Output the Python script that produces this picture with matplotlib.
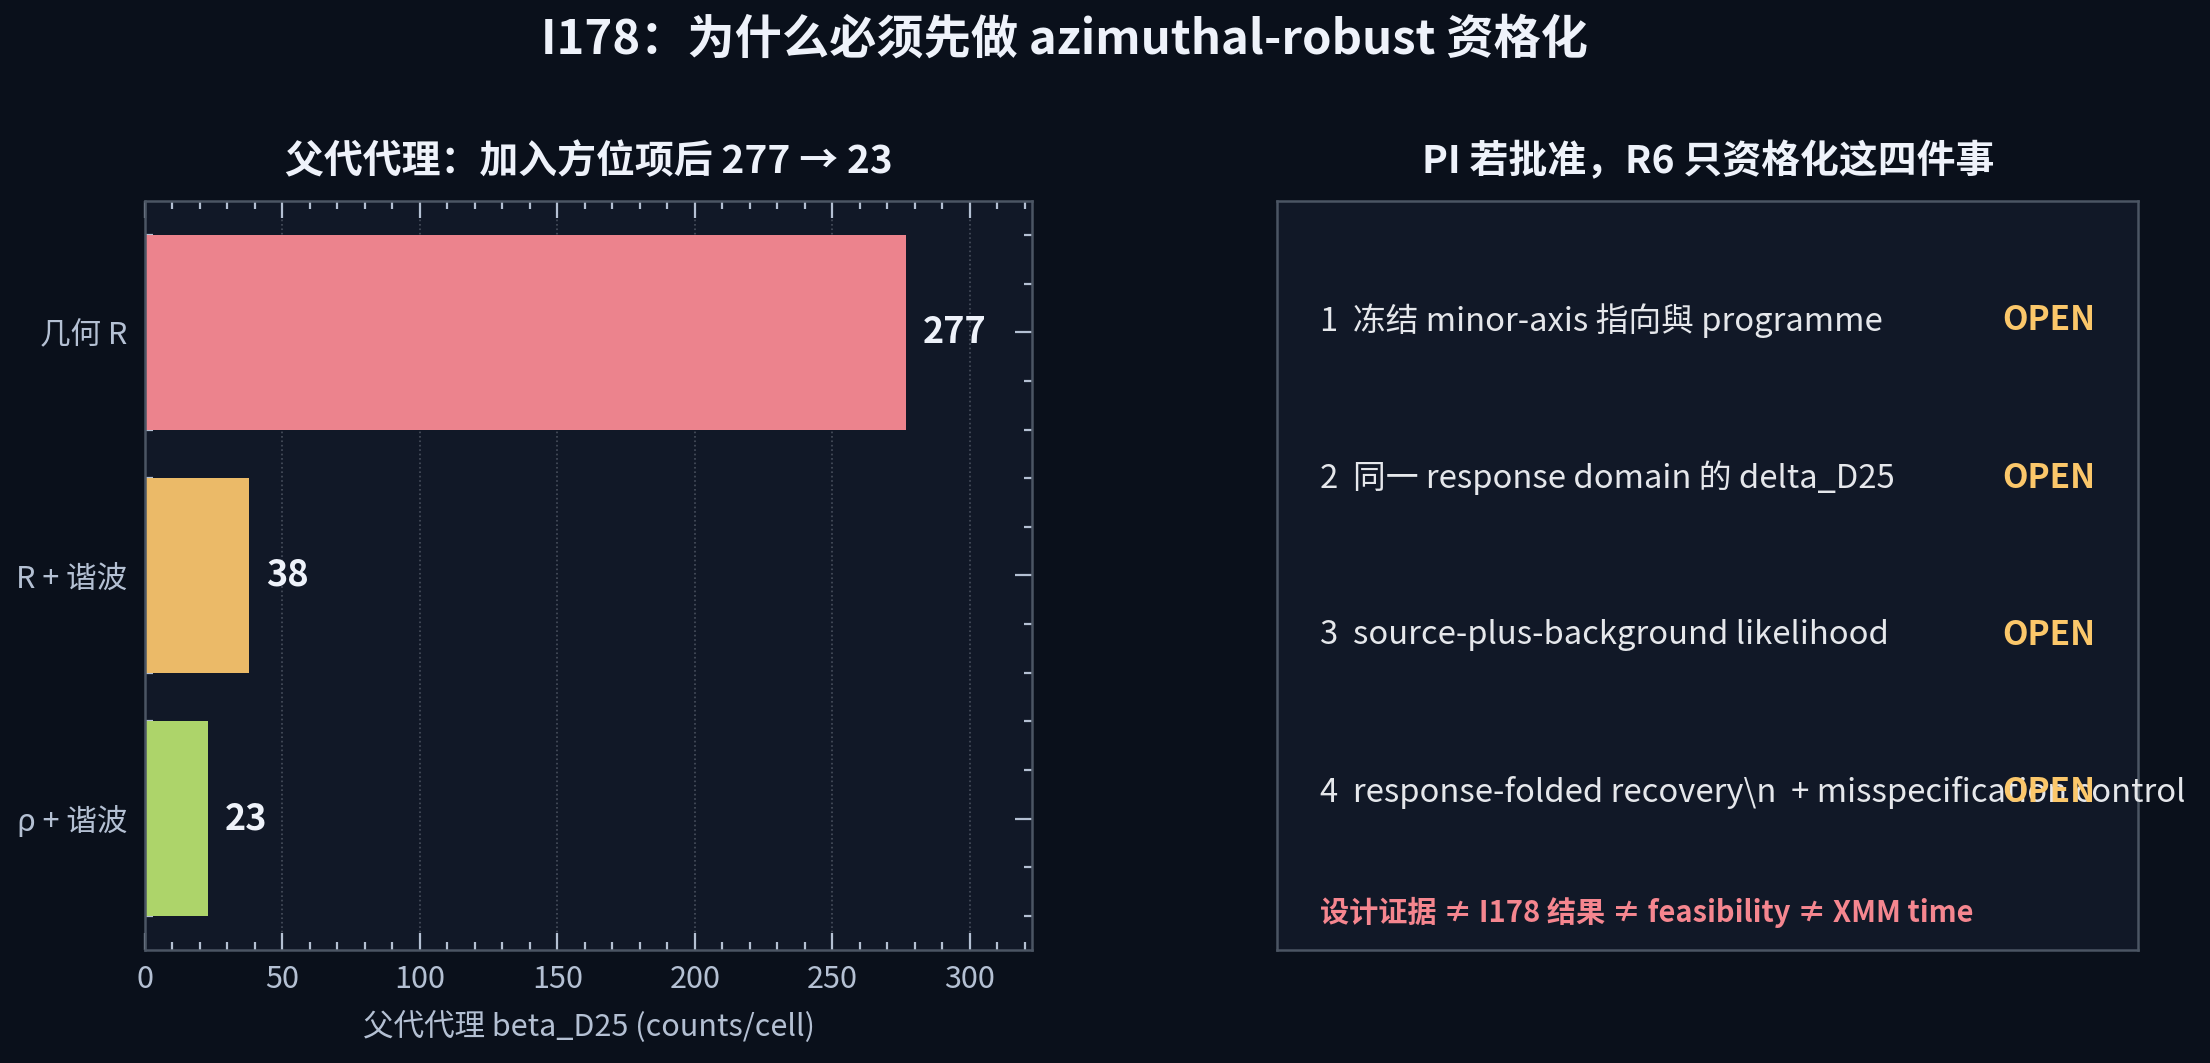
import numpy as np
import matplotlib.pyplot as plt
from matplotlib.ticker import AutoMinorLocator, MultipleLocator

plt.rcParams['font.family'] = ['Noto Sans CJK SC', 'DejaVu Sans']

# data
categories = ["几何 R", "R + 谐波", "ρ + 谐波"]
beta_values = [277, 38, 23]
bar_colors = ["#ec838d", "#ebba68", "#add46a"]

items = [
    "冻结 minor-axis 指向與 programme",
    "同一 response domain 的 delta_D25",
    "source-plus-background likelihood",
    "response-folded recovery\\n  + misspecification control",
]
item_status = ["OPEN", "OPEN", "OPEN", "OPEN"]
note = "设计证据 ≠ I178 结果 ≠ feasibility ≠ XMM time"

BG = "#0a101b"
AX_BG = "#111827"
TXT = "#eef2fa"
TICK = "#b4c0d3"
SPINE = "#4b5563"

fig = plt.figure(figsize=(11.05, 5.315), dpi=200, facecolor=BG)
fig.suptitle("I178：为什么必须先做 azimuthal-robust 资格化", color=TXT,
             fontsize=17, fontweight="bold", x=0.4815, y=0.985)

# left: bar chart
ax = fig.add_axes([0.0656, 0.1063, 0.4014, 0.7047])
ax.set_facecolor(AX_BG)
y = np.arange(len(categories))
ax.barh(y, beta_values, height=0.8, color=bar_colors, zorder=2)
ax.set_yticks(y)
ax.set_yticklabels(categories)
ax.invert_yaxis()
ax.set_xlim(0, max(beta_values) * 1.165)
ax.xaxis.set_major_locator(MultipleLocator(50))
ax.xaxis.set_minor_locator(AutoMinorLocator(5))
ax.yaxis.set_minor_locator(AutoMinorLocator(5))
ax.tick_params(which="both", direction="in", top=True, right=True,
               colors=TICK, labelsize=11, width=0.8)
ax.tick_params(which="major", length=6)
ax.tick_params(which="minor", length=3)
ax.tick_params(axis="x", pad=5)
ax.tick_params(axis="y", pad=6.5)
ax.grid(axis="x", color="#6b7280", linestyle=":", linewidth=0.6, alpha=0.6, zorder=0)
for s in ax.spines.values():
    s.set_color(SPINE)
    s.set_linewidth(0.9)
for yi, v in zip(y, beta_values):
    ax.text(v + 6, yi, str(v), va="center", ha="left", color=TXT,
            fontsize=13, fontweight="bold")
ax.set_xlabel("父代代理 beta_D25 (counts/cell)", color=TICK, fontsize=11, labelpad=6)
ax.set_title("父代代理：加入方位项后 277 → 23", color=TXT, fontsize=14,
             fontweight="bold", pad=10)

# right: checklist box
ax2 = fig.add_axes([0.578, 0.1063, 0.3896, 0.7047])
ax2.set_facecolor(AX_BG)
ax2.set_xticks([])
ax2.set_yticks([])
ax2.set_xlim(0, 1)
ax2.set_ylim(0, 1)
for s in ax2.spines.values():
    s.set_color(SPINE)
    s.set_linewidth(0.9)
for i, (txt, st) in enumerate(zip(items, item_status)):
    yy = 0.84 - i * 0.21
    ax2.text(0.05, yy, f"{i + 1}  {txt}", color="#e5e7eb", fontsize=11.8,
             va="center", ha="left", transform=ax2.transAxes)
    ax2.text(0.95, yy, st, color="#fbc76a", fontsize=12, fontweight="bold",
             va="center", ha="right", transform=ax2.transAxes)
ax2.text(0.05, 0.05, note, color="#f5868f", fontsize=10.5, fontweight="bold",
         va="center", ha="left", transform=ax2.transAxes)
ax2.set_title("PI 若批准，R6 只资格化这四件事", color=TXT, fontsize=14,
              fontweight="bold", pad=10)

fig.savefig("out.png", dpi=200, facecolor=BG)
